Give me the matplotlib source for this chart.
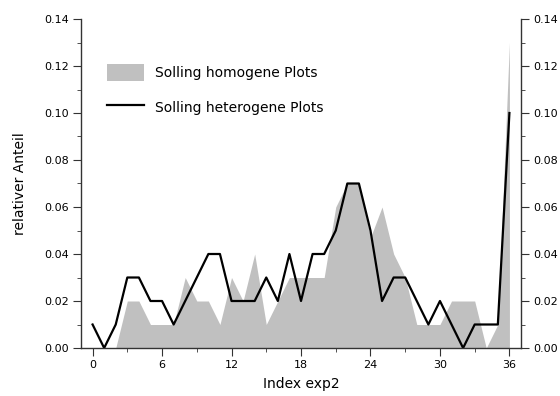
import numpy as np
import matplotlib
matplotlib.use("Agg")
import matplotlib.pyplot as plt
from matplotlib.ticker import MultipleLocator, FormatStrFormatter

# Daten
index = list(range(37))
homogen = [0.00, 0.00, 0.00, 0.02, 0.02, 0.01, 0.01, 0.01, 0.03, 0.02,
           0.02, 0.01, 0.03, 0.02, 0.04, 0.01, 0.02, 0.03, 0.03, 0.03,
           0.03, 0.06, 0.07, 0.07, 0.047, 0.06, 0.04, 0.03, 0.01, 0.01,
           0.01, 0.02, 0.02, 0.02, 0.00, 0.01, 0.13]
heterogen = [0.01, 0.00, 0.01, 0.03, 0.03, 0.02, 0.02, 0.01, 0.02, 0.03,
             0.04, 0.04, 0.02, 0.02, 0.02, 0.03, 0.02, 0.04, 0.02, 0.04,
             0.04, 0.05, 0.07, 0.07, 0.05, 0.02, 0.03, 0.03, 0.02, 0.01,
             0.02, 0.01, 0.00, 0.01, 0.01, 0.01, 0.10]
x_ticks = [0, 6, 12, 18, 24, 30, 36]

fig = plt.figure(figsize=(5.6, 3.96), dpi=100)
ax = fig.add_axes([81/560, 1 - 348/396, 440/560, 329/396])

ax.fill_between(index, homogen, 0, color="#c0c0c0", lw=0,
                label="Solling homogene Plots")
ax.plot(index, heterogen, color="black", lw=1.6,
        label="Solling heterogene Plots")

ax.set_xlim(-1, 37)
ax.set_ylim(0, 0.14)
ax.set_xticks(x_ticks)
ax.xaxis.set_minor_locator(MultipleLocator(3))
ax.yaxis.set_major_locator(MultipleLocator(0.02))
ax.yaxis.set_minor_locator(MultipleLocator(0.01))
ax.yaxis.set_major_formatter(FormatStrFormatter("%.2f"))

ax.spines["top"].set_visible(False)
for s in ["left", "right", "bottom"]:
    ax.spines[s].set_color("#333333")
    ax.spines[s].set_linewidth(1.0)

ax.tick_params(which="both", direction="out", right=True, labelright=True,
               labelsize=8, colors="#333333", labelcolor="black")
ax.tick_params(which="major", length=6, pad=3)
ax.tick_params(which="minor", length=3)

ax.set_xlabel("Index exp2", fontsize=10, labelpad=5)
ax.set_ylabel("relativer Anteil", fontsize=10, labelpad=12)

leg = ax.legend(loc="upper left", bbox_to_anchor=(0.03, 0.90), frameon=False,
                fontsize=10, handlelength=2.7, handleheight=1.5,
                labelspacing=1.25, handletextpad=0.8)

fig.savefig("out.png", dpi=100)
